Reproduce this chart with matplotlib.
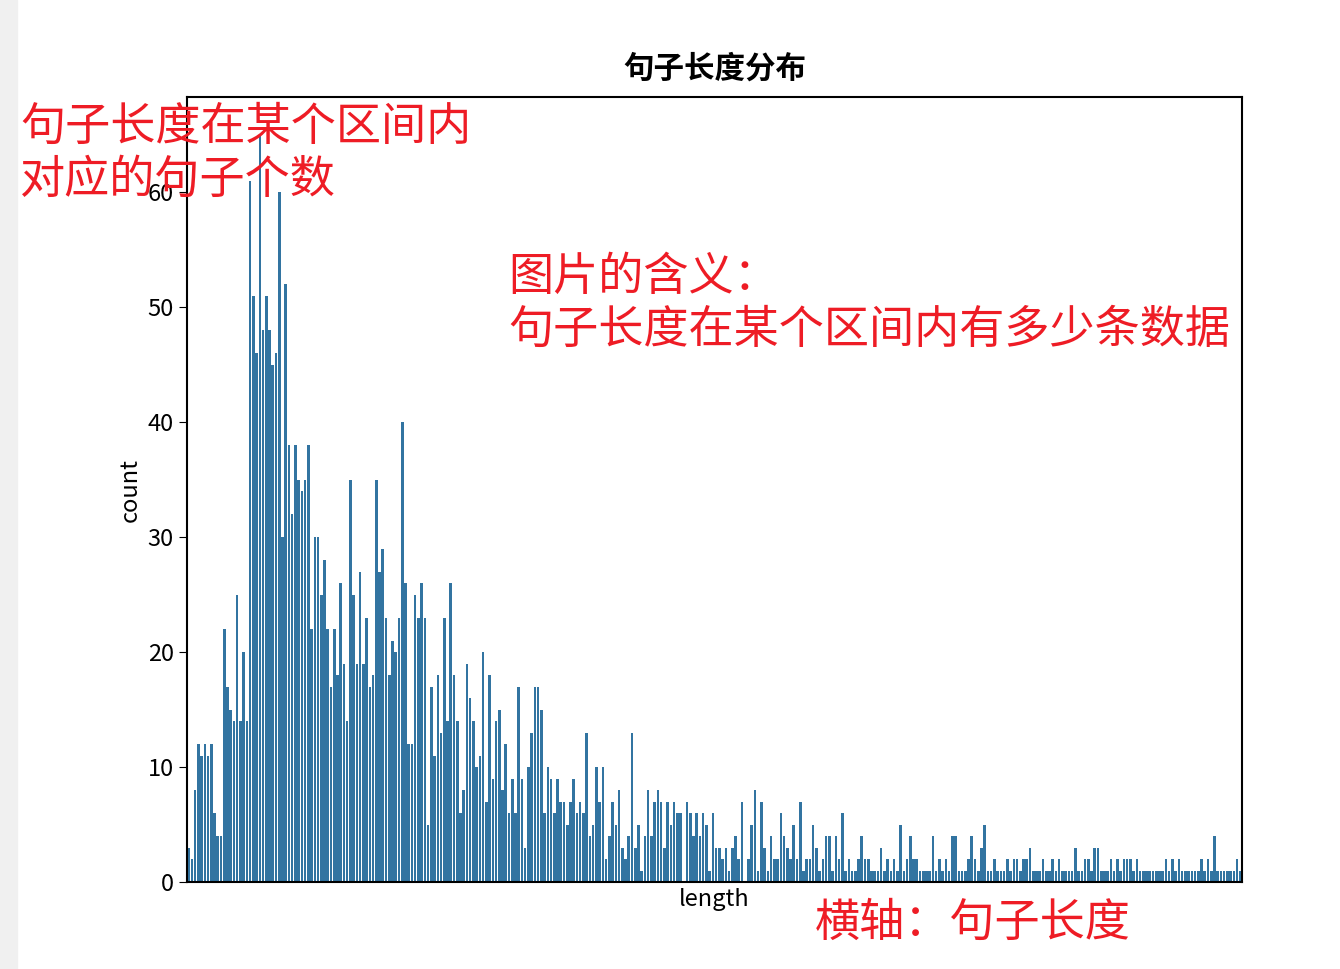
import matplotlib
matplotlib.use("Agg")
import matplotlib.pyplot as plt
import numpy as np

plt.rcParams['font.family'] = ['Noto Sans CJK SC', 'DejaVu Sans']

# counts per sentence length left to right
seg1 = [3, 2, 8, 12, 11, 12, 11, 12, 6, 4, 4, 22, 17, 15, 14, 25, 14, 20, 14,
        61, 51, 46, 65, 48, 51, 48, 45, 46, 60, 30, 52, 38, 32, 38, 35, 34, 35,
        38, 22, 30, 30, 25, 28, 22, 17, 22, 18, 26, 19, 14, 35, 25, 19, 27, 19,
        23, 17, 18, 35, 27, 29, 23, 18, 21, 20, 23]
seg2 = [40, 26, 12, 12, 25, 23, 26, 23, 5, 17, 11, 18, 13, 23, 14, 26, 18, 14,
        6, 8, 19, 16, 14, 10, 11, 20, 7, 18, 9, 14, 15, 8, 12, 6, 9, 6, 17, 9,
        3, 10, 13, 17, 17, 15, 6, 10, 9, 6, 9, 7, 7, 5, 7, 9, 6, 7, 6, 13, 4,
        5, 10, 7, 10, 2, 4, 7, 5, 8, 3, 2, 4, 13, 3, 5, 1, 4, 8, 4]
seg3 = [7, 8, 7, 3, 7, 5, 7, 6, 6, 0, 7, 6, 4, 6, 4, 6, 5, 1, 6, 3, 3, 2, 3,
        1, 3, 4, 2, 7, 0, 2, 5, 8, 1, 7, 3, 1, 4, 2, 2, 6, 4, 3, 2, 5, 2, 7,
        1, 2, 2, 5, 3, 1, 2, 4, 4, 1, 4, 2, 6, 1, 2, 1, 1, 2, 4, 2, 2, 1, 1,
        1, 3, 1, 2, 1, 2, 1, 5, 1, 2, 4, 2, 2, 1, 1, 1, 1, 4, 1, 2, 1, 2, 1,
        4, 4, 1]
seg4 = [1, 1, 2, 4, 2, 1, 3, 5, 1, 1, 2, 1, 1, 1, 2, 1, 2, 2, 1, 2, 2, 3, 1,
        1, 1, 2, 1, 1, 2, 1, 2, 1, 1, 1, 1, 3, 1, 1, 2, 2, 1, 3, 3, 1, 1, 1,
        2, 1, 2, 1, 2, 2, 2, 1, 2, 1, 1, 1, 1, 1, 1, 1, 1, 2, 1, 2, 1, 2, 1,
        1, 1, 1, 1, 1, 2, 1, 2, 1, 4, 1, 1, 1, 1, 1, 1, 2, 1]
counts = seg1 + seg2 + seg3 + seg4
lengths = np.arange(len(counts))

fig = plt.figure(figsize=(13.4, 9.69), dpi=100)
fig.patches.append(plt.Rectangle((0, 0), 17 / 1340, 1, transform=fig.transFigure,
                                 color="#f0f0f0", zorder=-1))
ax = fig.add_axes([187 / 1340, 1 - 882 / 969, (1242 - 187) / 1340, (882 - 97) / 969])
ax.bar(lengths, counts, width=0.8, color="#3274a1", edgecolor="none")
ax.set_xlim(-0.5, len(counts) - 0.5)
ax.set_ylim(0, 68.3)
ax.set_xticks([])
ax.set_yticks([0, 10, 20, 30, 40, 50, 60])
ax.tick_params(axis="y", labelsize=17, length=6)
ax.set_xlabel("length", fontsize=17)
ax.set_ylabel("count", fontsize=17)
ax.set_title("句子长度分布", fontsize=22, fontweight="bold", pad=14)
for s in ax.spines.values():
    s.set_linewidth(1.5)

red = "#ee1c25"
fig.text(20 / 1340, 1 - 104 / 969, "句子长度在某个区间内\n对应的句子个数", color=red,
         fontsize=32.5, va="top", linespacing=1.2)
fig.text(508 / 1340, 1 - 254 / 969, "图片的含义：\n句子长度在某个区间内有多少条数据", color=red,
         fontsize=32.5, va="top", linespacing=1.2)
fig.text(815 / 1340, 1 - 900 / 969, "横轴：句子长度", color=red, fontsize=32.5, va="top")

plt.savefig("out.png", dpi=100)
